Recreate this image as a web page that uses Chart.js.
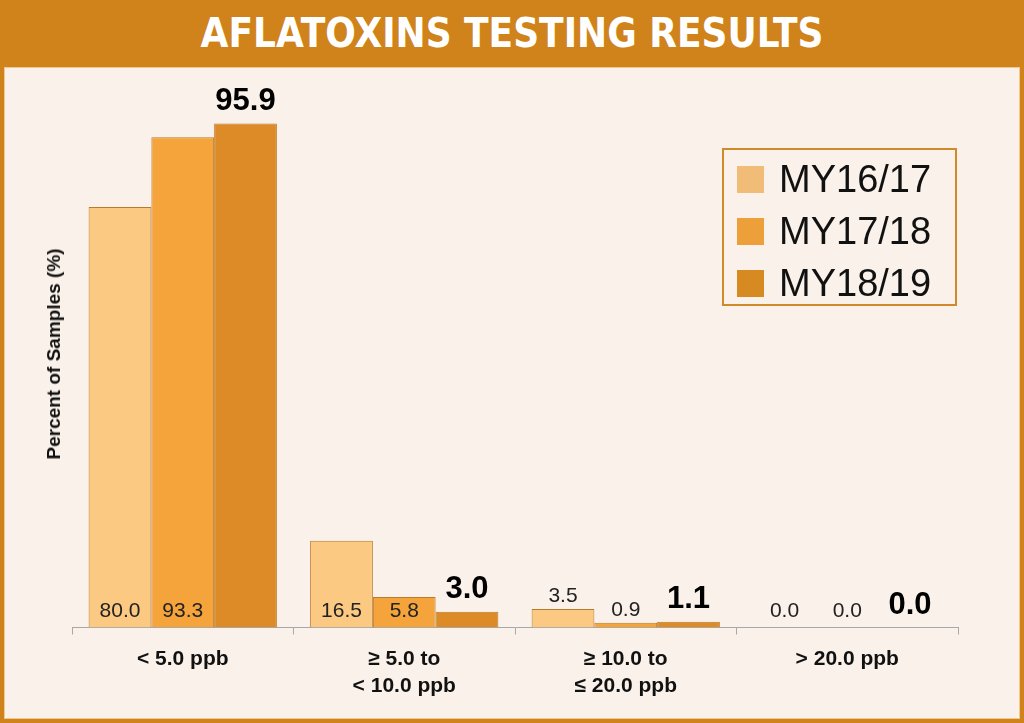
<!DOCTYPE html>
<html>
<head>
<meta charset="utf-8">
<script src="https://cdn.jsdelivr.net/npm/chart.js@4/dist/chart.umd.min.js"></script>
<style>
  html, body { margin: 0; padding: 0; }
  body { width: 1024px; height: 723px; background: #d0831a; position: relative; overflow: hidden; font-family: "Liberation Sans", Arial, sans-serif; }
  .title { position: absolute; left: 0; top: 0; width: 1024px; height: 67px; line-height: 67px; text-align: center; color: #fff;
           font-family: "Liberation Sans Narrow", "DejaVu Sans Condensed", sans-serif; font-weight: bold; font-size: 40px; }
  .panel { position: absolute; left: 4px; top: 67px; width: 1014px; height: 650px; background: #faf2ea; border: 1px solid #f0c890; }
  canvas { position: absolute; left: 0; top: 0; }
  .ytitle { position: absolute; left: 54px; top: 354px; transform: translate(-50%, -50%) rotate(-90deg); white-space: nowrap;
            font-weight: bold; font-size: 19px; color: #111; }
  .legend { position: absolute; left: 722px; top: 148px; width: 231px; height: 154px; border: 2px solid #d08a2a; }
  .legend .item { position: absolute; left: 13px; height: 40px; display: flex; align-items: center; font-size: 38px; color: #111; }
  .legend .sw { width: 27px; height: 27px; margin-right: 15px; }
</style>
</head>
<body>
<div class="title">AFLATOXINS TESTING RESULTS</div>
<div class="panel"></div>
<canvas id="chart" width="1024" height="723"></canvas>
<div class="ytitle">Percent of Samples (%)</div>
<div class="legend" id="legend"></div>
<script>
const categories = [
  ['< 5.0 ppb'],
  ['\u2265 5.0 to', '< 10.0 ppb'],
  ['\u2265 10.0 to', '\u2264 20.0 ppb'],
  ['> 20.0 ppb']
];
const seriesNames = ['MY16/17', 'MY17/18', 'MY18/19'];
const my1617 = [80.0, 16.5, 3.5, 0.0];
const my1718 = [93.3, 5.8, 0.9, 0.0];
const my1819 = [95.9, 3.0, 1.1, 0.0];

const barColors = ['#fbc982', '#f4a43b', '#dd8b27'];
const swatchColors = ['#f0bc78', '#eda03a', '#d88a22'];

// legend
const legendEl = document.getElementById('legend');
seriesNames.forEach((name, i) => {
  const item = document.createElement('div');
  item.className = 'item';
  item.style.top = (9 + i * 52) + 'px';
  item.innerHTML = '<span class="sw" style="background:' + swatchColors[i] + '"></span>' + name;
  legendEl.appendChild(item);
});

// value labels drawn from bar elements
const valueLabels = {
  id: 'valueLabels',
  afterDatasetsDraw(chart) {
    const ctx = chart.ctx;
    ctx.save();
    ctx.textAlign = 'center';
    ctx.textBaseline = 'alphabetic';
    chart.data.datasets.forEach((ds, di) => {
      const meta = chart.getDatasetMeta(di);
      meta.data.forEach((bar, i) => {
        const txt = ds.data[i].toFixed(1);
        let y;
        if (di === 2) {
          ctx.font = 'bold 31px "Liberation Sans", Arial, sans-serif';
          ctx.fillStyle = '#000';
          y = bar.y - 14;
        } else {
          ctx.font = '21px "Liberation Sans", Arial, sans-serif';
          ctx.fillStyle = '#222';
          const h = bar.base - bar.y;
          y = h >= 22 ? bar.base - 11 : Math.min(bar.base - 11, bar.y - 7);
        }
        ctx.fillText(txt, bar.x, y);
      });
    });
    ctx.restore();
  }
};

new Chart(document.getElementById('chart'), {
  type: 'bar',
  data: {
    labels: categories,
    datasets: [my1617, my1718, my1819].map((d, i) => ({
      label: seriesNames[i],
      data: d,
      backgroundColor: barColors[i],
      borderColor: '#b97a2c',
      borderWidth: 1,
      categoryPercentage: 0.85,
      barPercentage: 1.0
    }))
  },
  options: {
    responsive: false,
    animation: false,
    layout: { padding: { left: 72, right: 66, top: 102, bottom: 12 } },
    plugins: { legend: { display: false }, tooltip: { enabled: false } },
    scales: {
      x: {
        border: { color: '#a8a8a8', width: 1 },
        grid: { display: true, drawOnChartArea: false, offset: true, tickLength: 7, color: '#a8a8a8' },
        ticks: { color: '#111', padding: 12, font: { family: '"Liberation Sans", Arial, sans-serif', size: 21, weight: 'bold', lineHeight: 1.25 } }
      },
      y: { display: false, min: 0, max: 100 }
    }
  },
  plugins: [valueLabels]
});
</script>
</body>
</html>
